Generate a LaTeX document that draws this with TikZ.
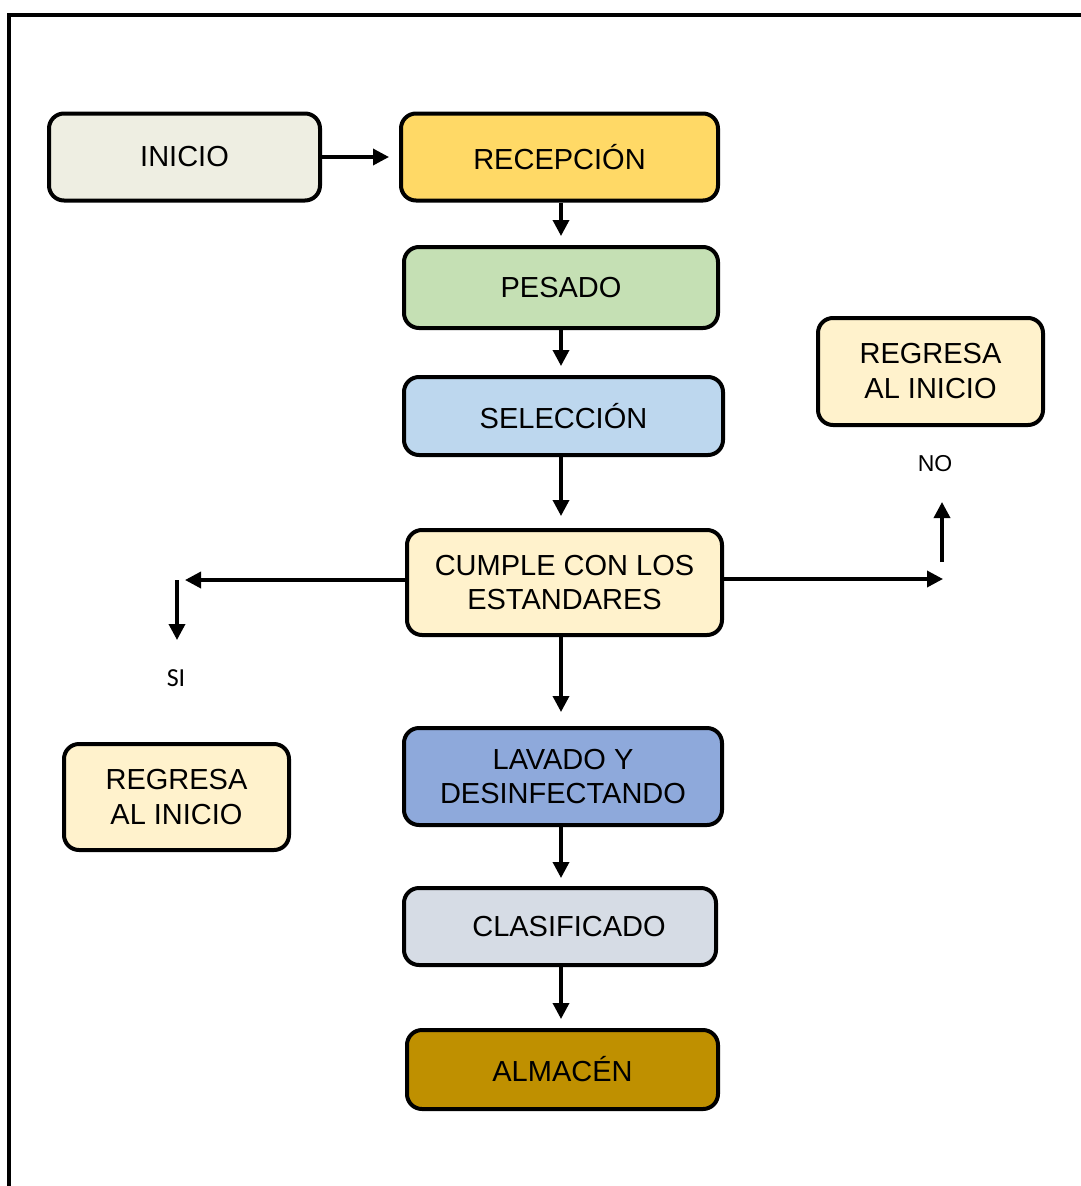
\documentclass[tikz,border=0pt]{standalone}
\usepackage{fontspec}
\setmainfont{Liberation Sans}
\newfontfamily\calib{Carlito}
\usetikzlibrary{arrows.meta}
\definecolor{cInicio}{RGB}{238,238,226}
\definecolor{cRecep}{RGB}{255,217,102}
\definecolor{cPesado}{RGB}{197,224,180}
\definecolor{cSelec}{RGB}{189,215,238}
\definecolor{cCumple}{RGB}{255,242,204}
\definecolor{cLavado}{RGB}{142,169,219}
\definecolor{cClasif}{RGB}{214,220,229}
\definecolor{cAlmacen}{RGB}{191,144,0}
\tikzset{
  box/.style={draw=black, line width=4pt, rounded corners=15pt, inner sep=0pt,
    align=center, font=\fontsize{29}{35}\selectfont},
  arr/.style={line width=3.5pt, -{Triangle[length=16pt,width=16pt]}},
  lbl/.style={inner sep=0pt}
}
\begin{document}
\begin{tikzpicture}[x=1pt,y=-1pt]
\useasboundingbox (0,0) rectangle (1081,1186);
% frame
\draw[line width=4pt] (9,1200) -- (9,15) -- (1100,15);

\node[box, fill=cInicio, minimum width=271pt, minimum height=87pt] (inicio) at (184.5,157) {INICIO};
\node[box, fill=cRecep, minimum width=317pt, minimum height=87pt] (recep) at (559.5,157) {RECEPCIÓN};
\node[box, fill=cPesado, minimum width=314pt, minimum height=81pt] (pesado) at (561,287.5) {PESADO};
\node[box, fill=cSelec, minimum width=319pt, minimum height=78pt] (selec) at (563.5,416) {SELECCIÓN};
\node[box, fill=cCumple, minimum width=315pt, minimum height=105pt] (cumple) at (564.5,582.5) {CUMPLE CON LOS\\[-1pt]ESTANDARES};
\node[box, fill=cLavado, minimum width=318pt, minimum height=97pt] (lavado) at (563,776.5) {LAVADO Y\\[-1pt]DESINFECTANDO};
\node[box, fill=cClasif, minimum width=312pt, minimum height=77pt] (clasif) at (560,926.5) {\hspace*{18pt}CLASIFICADO};
\node[box, fill=cAlmacen, minimum width=311pt, minimum height=79pt] (almacen) at (562.5,1069.5) {ALMACÉN};
\node[box, fill=cCumple, minimum width=225pt, minimum height=107pt] (regr) at (930.5,371.5) {REGRESA\\AL INICIO};
\node[box, fill=cCumple, minimum width=225pt, minimum height=106pt] (regl) at (176.5,797) {REGRESA\\AL INICIO};

\node[lbl, font=\calib\fontsize{26}{30}\selectfont] (si) at (176,678) {SI};
\node[lbl, font=\fontsize{23}{28}\selectfont] (no) at (935,464) {NO};

\coordinate (ax) at (561,0);
\coordinate (lefttip) at (185,580);
\coordinate (sitop) at (177,580);
\coordinate (sitip) at (177,640);
\coordinate (righttip) at (943,579);
\coordinate (nobot) at (942,562);
\coordinate (notip) at (942,502);

\draw[arr, shorten >=10pt] (inicio.east) -- (recep.west);
\draw[arr, shorten >=9pt] (recep.south -| ax) -- (pesado.north -| ax);
\draw[arr, shorten >=9pt] (pesado.south -| ax) -- (selec.north -| ax);
\draw[arr, shorten >=12pt] (selec.south -| ax) -- (cumple.north -| ax);
\draw[arr, shorten >=14pt] (cumple.south -| ax) -- (lavado.north -| ax);
\draw[arr, shorten >=8pt] (lavado.south -| ax) -- (clasif.north -| ax);
\draw[arr, shorten >=9pt] (clasif.south -| ax) -- (almacen.north -| ax);

\draw[arr] (cumple.west |- lefttip) -- (lefttip);
\draw[arr] (sitop) -- (sitip);
\draw[arr] (cumple.east |- righttip) -- (righttip);
\draw[arr] (nobot) -- (notip);
\end{tikzpicture}
\end{document}
